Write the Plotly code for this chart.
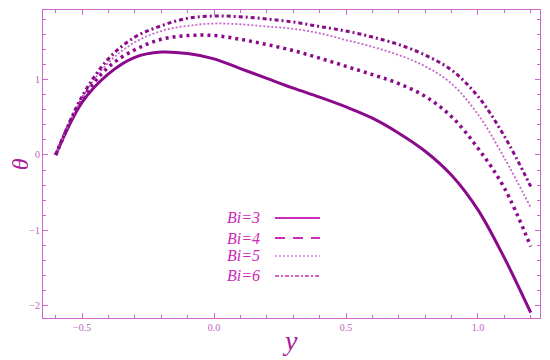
import plotly.graph_objects as go

# y grid (abscissa) and theta profiles
y_vals = [-0.6, -0.5, -0.4, -0.3, -0.2, -0.1, 0.0, 0.1, 0.2, 0.3,
          0.4, 0.5, 0.6, 0.7, 0.8, 0.9, 1.0, 1.1, 1.2]

theta_bi3 = [0.0, 0.70, 1.08, 1.30, 1.37, 1.35, 1.28, 1.15, 1.02, 0.89,
             0.77, 0.64, 0.49, 0.29, 0.05, -0.27, -0.73, -1.37, -2.10]
theta_bi4 = [0.0, 0.74, 1.17, 1.40, 1.54, 1.59, 1.59, 1.54, 1.47, 1.39,
             1.29, 1.18, 1.07, 0.95, 0.78, 0.51, 0.09, -0.44, -1.22]
theta_bi5 = [0.0, 0.76, 1.23, 1.50, 1.65, 1.72, 1.75, 1.74, 1.71, 1.68,
             1.62, 1.53, 1.44, 1.33, 1.18, 0.95, 0.54, -0.04, -0.70]
theta_bi6 = [0.0, 0.78, 1.28, 1.57, 1.72, 1.82, 1.85, 1.84, 1.81, 1.77,
             1.71, 1.65, 1.57, 1.47, 1.33, 1.13, 0.78, 0.25, -0.42]

labels = ["Bi=3", "Bi=4", "Bi=5", "Bi=6"]

DARK = "#8b0a8b"
LIGHT = "#c866c8"
AXIS = "#cc66cc"
TICKFONT = "#c060c0"
LEG = "#cc2ab8"
SERIF = "Liberation Serif"

styles = [
    dict(color=DARK, width=3, dash="solid"),
    dict(color=DARK, width=3.5, dash="3px,4px"),
    dict(color=LIGHT, width=1.8, dash="2px,2px"),
    dict(color=DARK, width=3, dash="4px,3px,2px,3px"),
]

fig = go.Figure()
for lab, th, st in zip(labels, [theta_bi3, theta_bi4, theta_bi5, theta_bi6], styles):
    fig.add_trace(go.Scatter(x=y_vals, y=th, mode="lines", name=lab,
                             line=dict(shape="spline", smoothing=1.0, **st)))

axis_common = dict(
    showline=True, linecolor=AXIS, linewidth=1, mirror="allticks",
    ticks="inside", ticklen=5, tickcolor=AXIS, tickwidth=1,
    showgrid=False, zeroline=False,
    tickfont=dict(family=SERIF, size=10, color=TICKFONT),
)

fig.update_xaxes(range=[-0.648, 1.235], tickvals=[-0.5, 0, 0.5, 1.0],
                 ticktext=["\u22120.5", "0.0", "0.5", "1.0"],
                 minor=dict(dtick=0.1, tick0=0, ticks="inside", ticklen=3, tickcolor=AXIS),
                 **axis_common)
fig.update_yaxes(range=[-2.17, 1.93], tickvals=[-2, -1, 0, 1],
                 minor=dict(dtick=0.2, tick0=0, ticks="inside", ticklen=3, tickcolor=AXIS),
                 **axis_common)

# legend drawn Mathematica-style: label on the left, line sample on the right
leg_y = [0.3247, 0.2597, 0.2013, 0.1364]
leg_dash = ["solid", "10px,8px", "2px,2px", "4px,2px,2px,2px"]
leg_width = [2, 2, 1.5, 1.5]
leg_color = [LEG, LEG, "#dd77dd", LEG]
annotations = []
shapes = []
for lab, ly, dsh, w, c in zip(labels, leg_y, leg_dash, leg_width, leg_color):
    annotations.append(dict(xref="paper", yref="paper", x=0.4406, y=ly, text=lab,
                            showarrow=False, xanchor="right", yanchor="middle",
                            font=dict(family=SERIF, size=16, color=LEG, style="italic")))
    shapes.append(dict(type="line", xref="paper", yref="paper", x0=0.4668, x1=0.5573,
                       y0=ly, y1=ly, line=dict(color=c, width=w, dash=dsh)))

annotations.append(dict(xref="paper", yref="paper", x=0.496, y=-0.072, text="y",
                        showarrow=False, xanchor="center", yanchor="middle",
                        font=dict(family=SERIF, size=28, color="#a8209a", style="italic")))
annotations.append(dict(xref="paper", yref="paper", x=-0.046, y=0.5, text="\u03b8",
                        showarrow=False, xanchor="center", yanchor="middle", textangle=-90,
                        font=dict(family=SERIF, size=24, color="#a8209a", style="italic")))

# page body has an 8px margin, so the figure is sized/offset to compensate
fig.update_layout(
    width=542, height=352,
    margin=dict(l=35, r=10, t=2, b=42),
    paper_bgcolor="white", plot_bgcolor="white",
    showlegend=False,
    annotations=annotations, shapes=shapes,
)

fig.write_html("out.html")
